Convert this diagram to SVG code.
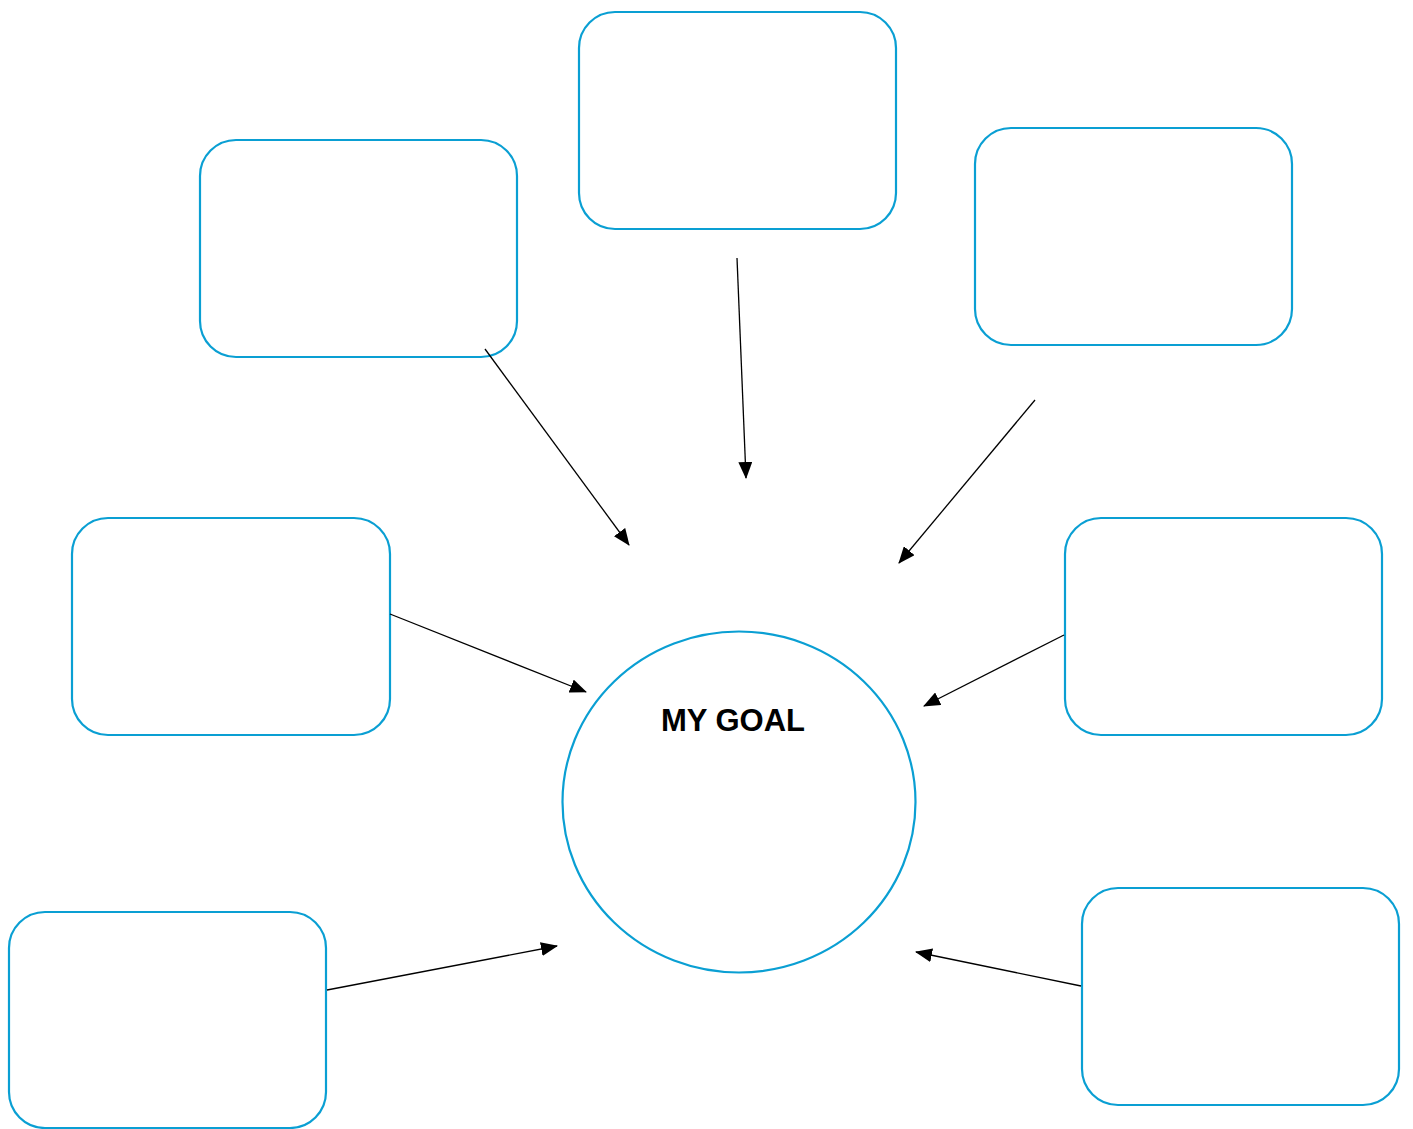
<svg xmlns="http://www.w3.org/2000/svg" width="1413" height="1129" viewBox="0 0 1413 1129">
<style>
.box{fill:#fff;stroke:#0a9fd3;stroke-width:2.2}
.conn{stroke:#000;stroke-width:1.3;fill:none;marker-end:url(#ah)}
.lbl{font-family:"Liberation Sans",Arial,sans-serif;font-weight:bold;font-size:31px;fill:#000}
</style>
<defs>
<marker id="ah" markerWidth="17" markerHeight="14" refX="16" refY="7" orient="auto" markerUnits="userSpaceOnUse">
<path d="M0,0 L17,7 L0,14 Z" fill="#000"/>
</marker>
</defs>
<rect width="1413" height="1129" fill="#fff"/>
<g id="box-top"><rect class="box" x="579" y="12" width="317" height="217" rx="36"/></g>
<g id="box-top-left"><rect class="box" x="200" y="140" width="317" height="217" rx="36"/></g>
<g id="box-top-right"><rect class="box" x="975" y="128" width="317" height="217" rx="36"/></g>
<g id="box-mid-left"><rect class="box" x="72" y="518" width="318" height="217" rx="36"/></g>
<g id="box-mid-right"><rect class="box" x="1065" y="518" width="317" height="217" rx="36"/></g>
<g id="box-bottom-left"><rect class="box" x="9" y="912" width="317" height="216" rx="36"/></g>
<g id="box-bottom-right"><rect class="box" x="1082" y="888" width="317" height="217" rx="36"/></g>
<g id="goal">
<ellipse class="box" cx="739" cy="802" rx="176.5" ry="170.5"/>
<text class="lbl" x="733" y="731" text-anchor="middle">MY GOAL</text>
</g>
<g id="connectors">
<line class="conn" x1="485" y1="349" x2="629" y2="545"/>
<line class="conn" x1="737" y1="258" x2="746" y2="478"/>
<line class="conn" x1="1035" y1="400" x2="899" y2="563"/>
<line class="conn" x1="390" y1="614" x2="586" y2="692"/>
<line class="conn" x1="1064" y1="635" x2="924" y2="706"/>
<line class="conn" x1="327" y1="990" x2="557" y2="946"/>
<line class="conn" x1="1081" y1="986" x2="916" y2="952"/>
</g>
</svg>
